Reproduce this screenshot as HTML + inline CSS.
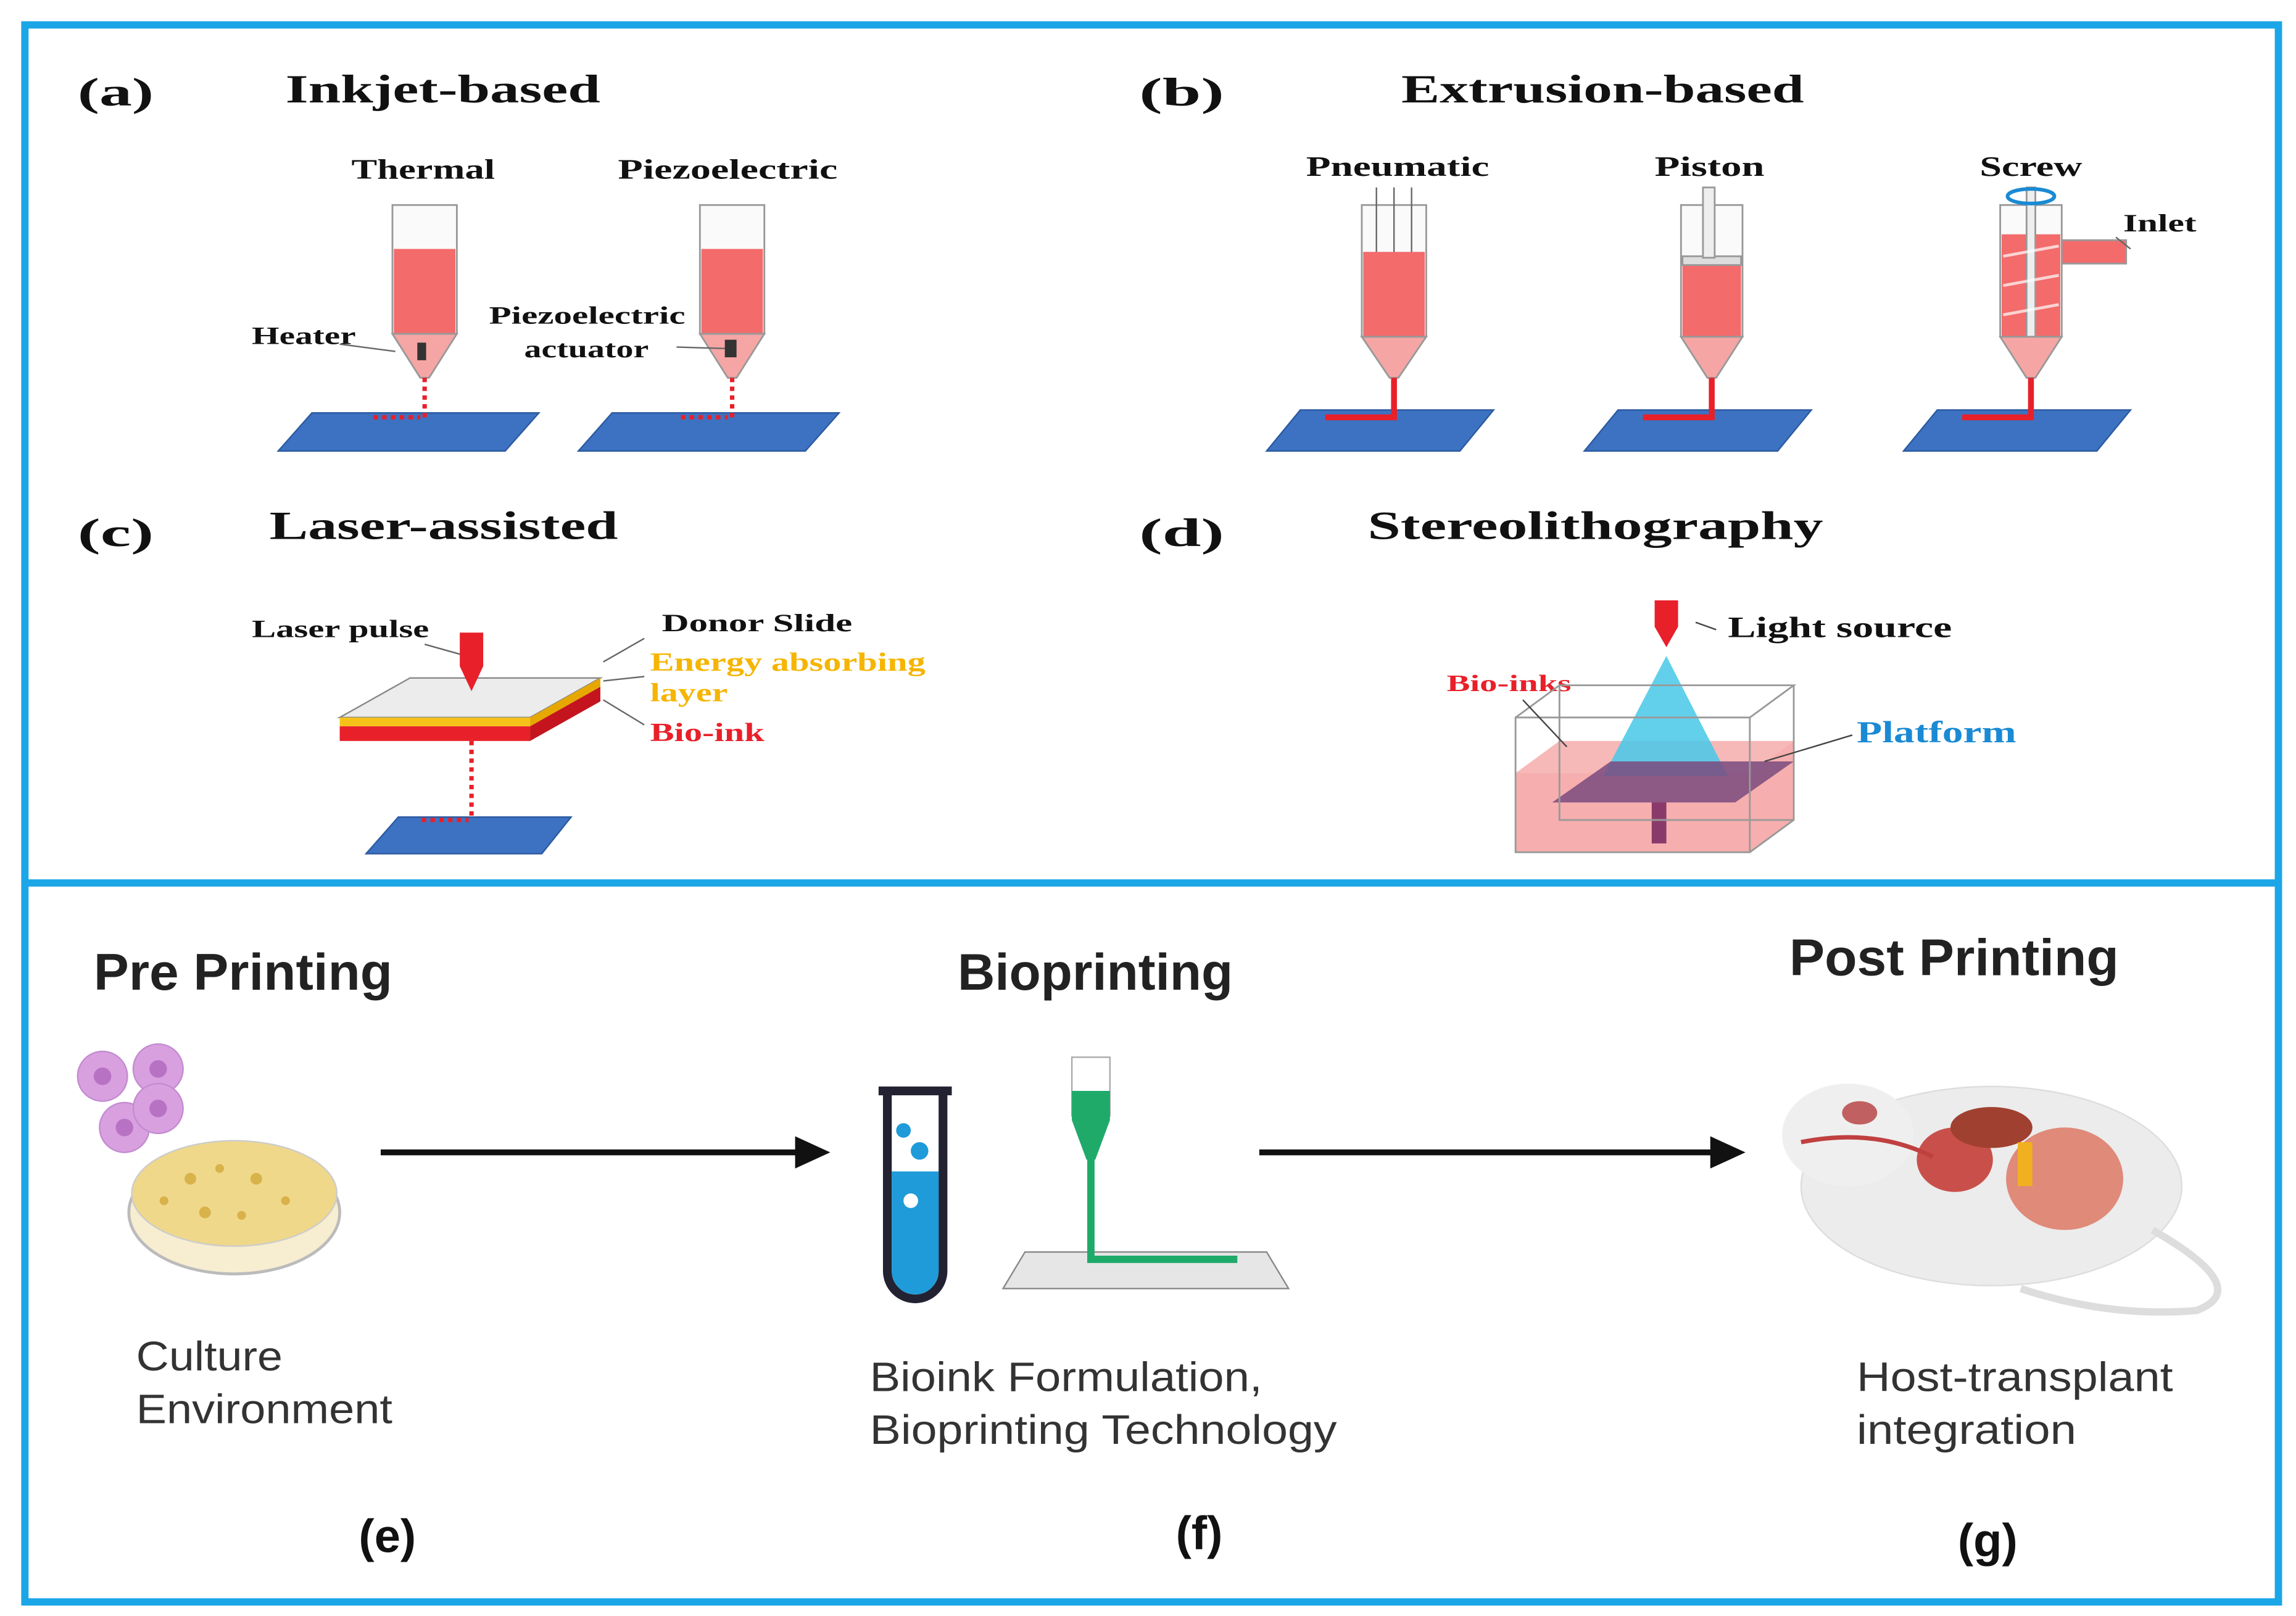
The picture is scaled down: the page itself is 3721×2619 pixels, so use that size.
<!DOCTYPE html>
<html><head><meta charset="utf-8"><style>
html,body{margin:0;padding:0;background:#fff}
svg{display:block}
.s{font-family:"Liberation Serif",serif;font-weight:bold}
.a{font-family:"Liberation Sans",sans-serif}
</style></head><body>
<svg width="3721" height="2619" viewBox="0 0 1568 1103.6" xmlns="http://www.w3.org/2000/svg">
<rect width="1568" height="1104" fill="#fff"/>
<rect x="17" y="17" width="1539" height="1077" fill="none" stroke="#1ba6e8" stroke-width="5"/>
<line x1="17" y1="603" x2="1556" y2="603" stroke="#1ba6e8" stroke-width="5"/>

<g class="s" font-size="27" fill="#111">
<text x="53" y="72" textLength="52" lengthAdjust="spacingAndGlyphs">(a)</text><text x="195" y="70" textLength="215" lengthAdjust="spacingAndGlyphs">Inkjet-based</text>
<text x="778" y="72" textLength="58" lengthAdjust="spacingAndGlyphs">(b)</text><text x="957" y="70" textLength="275" lengthAdjust="spacingAndGlyphs">Extrusion-based</text>
<text x="53" y="373" textLength="52" lengthAdjust="spacingAndGlyphs">(c)</text><text x="184" y="368" textLength="238" lengthAdjust="spacingAndGlyphs">Laser-assisted</text>
<text x="778" y="373" textLength="58" lengthAdjust="spacingAndGlyphs">(d)</text><text x="934" y="368" textLength="311" lengthAdjust="spacingAndGlyphs">Stereolithography</text>
</g>
<g class="s" font-size="19" fill="#111" lengthAdjust="spacingAndGlyphs">
<text x="240" y="122" textLength="98" lengthAdjust="spacingAndGlyphs">Thermal</text><text x="422" y="122" textLength="150" lengthAdjust="spacingAndGlyphs">Piezoelectric</text>
<text x="892" y="120" textLength="125" lengthAdjust="spacingAndGlyphs">Pneumatic</text><text x="1130" y="120" textLength="75" lengthAdjust="spacingAndGlyphs">Piston</text><text x="1352" y="120" textLength="70" lengthAdjust="spacingAndGlyphs">Screw</text>
</g>
<g class="s" font-size="17" fill="#111">
<text x="172" y="235" textLength="71" lengthAdjust="spacingAndGlyphs">Heater</text><text x="334" y="221" textLength="134" lengthAdjust="spacingAndGlyphs">Piezoelectric</text><text x="358" y="244" textLength="85" lengthAdjust="spacingAndGlyphs">actuator</text>
<text x="1450" y="158" textLength="50" lengthAdjust="spacingAndGlyphs">Inlet</text>
<text x="172" y="435" textLength="121" lengthAdjust="spacingAndGlyphs">Laser pulse</text><text x="452" y="431" textLength="130" lengthAdjust="spacingAndGlyphs">Donor Slide</text>
<text x="1180" y="435" font-size="20" textLength="153" lengthAdjust="spacingAndGlyphs">Light source</text>
</g>
<g class="s" font-size="18">
<text x="444" y="458" fill="#f5b500" textLength="188" lengthAdjust="spacingAndGlyphs">Energy absorbing</text><text x="444" y="479" fill="#f5b500" textLength="53" lengthAdjust="spacingAndGlyphs">layer</text>
<text x="444" y="506" fill="#e8202a" textLength="78" lengthAdjust="spacingAndGlyphs">Bio-ink</text>
<text x="988" y="472" fill="#e8202a" font-size="16" textLength="85" lengthAdjust="spacingAndGlyphs">Bio-inks</text>
<text x="1268" y="507" fill="#1a8ad4" font-size="21" textLength="109" lengthAdjust="spacingAndGlyphs">Platform</text>
</g>

<g fill="#3d72c2" stroke="#2b5aa0">
<polygon points="213,282 368,282 345,308 190,308"/>
<polygon points="418,282 573,282 550,308 395,308"/>
<polygon points="888,280 1020,280 997,308 865,308"/>
<polygon points="1105,280 1237,280 1214,308 1082,308"/>
<polygon points="1323,280 1455,280 1432,308 1300,308"/>
<polygon points="272,558 390,558 370,583 250,583"/>
</g>

<g stroke="#999" stroke-width="1.2">
<rect x="268" y="140" width="44" height="88" fill="#fafafa"/>
<rect x="269" y="170" width="42" height="58" fill="#f36b6b" stroke="none"/>
<polygon points="268,228 312,228 293,258 287,258" fill="#f6a5a5"/>
<rect x="285" y="234" width="6" height="12" fill="#333" stroke="none"/>
<rect x="478" y="140" width="44" height="88" fill="#fafafa"/>
<rect x="479" y="170" width="42" height="58" fill="#f36b6b" stroke="none"/>
<polygon points="478,228 522,228 503,258 497,258" fill="#f6a5a5"/>
<rect x="495" y="232" width="8" height="12" fill="#333" stroke="none"/>
<rect x="930" y="140" width="44" height="90" fill="#fafafa"/>
<rect x="931" y="172" width="42" height="58" fill="#f36b6b" stroke="none"/>
<polygon points="930,230 974,230 955,258 949,258" fill="#f6a5a5"/>
<rect x="1148" y="140" width="42" height="90" fill="#fafafa"/>
<rect x="1149" y="180" width="40" height="50" fill="#f36b6b" stroke="none"/>
<rect x="1149" y="175" width="40" height="6" fill="#ddd"/>
<rect x="1163" y="128" width="8" height="48" fill="#eee"/>
<polygon points="1148,230 1190,230 1172,258 1166,258" fill="#f6a5a5"/>
<rect x="1366" y="140" width="42" height="90" fill="#fafafa"/>
<rect x="1367" y="160" width="40" height="70" fill="#f36b6b" stroke="none"/>
<rect x="1408" y="164" width="44" height="16" fill="#f36b6b"/>
<rect x="1384" y="128" width="6" height="102" fill="#eee"/>
<polygon points="1366,230 1408,230 1390,258 1384,258" fill="#f6a5a5"/>
</g>
<g stroke="#fff" stroke-width="2" fill="none" opacity=".7">
<path d="M1368,175 L1406,168 M1368,195 L1406,188 M1368,215 L1406,208"/>
</g>
<ellipse cx="1387" cy="134" rx="16" ry="5" fill="none" stroke="#1a8ad4" stroke-width="2.5"/>
<g stroke="#666" stroke-width="1" fill="none">
<path d="M940,128 V172 M952,128 V172 M964,128 V172"/>
<path d="M232,235 L270,240 M462,237 L495,238 M1445,162 L1455,170 M290,440 L315,447"/>
</g>
<g stroke="#e8202a" stroke-width="4" fill="none">
<path d="M952,258 V285 H905"/><path d="M1169,258 V285 H1122"/><path d="M1387,258 V285 H1340"/>
</g>
<g stroke="#e8202a" stroke-width="3" stroke-dasharray="3,3" fill="none">
<path d="M290,258 V285 M255,285 H287"/><path d="M500,258 V285 M465,285 H497"/>
<path d="M322,500 V558 M288,560 H320"/>
</g>

<polygon points="232,490 280,463 410,463 362,490" fill="#ececec" stroke="#888"/>
<polygon points="232,490 362,490 362,496 232,496" fill="#f6c21a"/>
<polygon points="362,490 410,463 410,469 362,496" fill="#e6a800"/>
<polygon points="232,496 362,496 362,506 232,506" fill="#e8202a"/>
<polygon points="362,496 410,469 410,479 362,506" fill="#c4151e"/>
<polygon points="314,432 330,432 330,455 322,472 314,455" fill="#e8202a"/>
<g stroke="#666" stroke-width="1"><path d="M412,452 L440,436 M412,465 L440,462 M412,478 L440,495"/></g>

<polygon points="1035,528 1195,528 1225,506 1225,560 1195,582 1035,582" fill="#f6a0a0" opacity=".85"/>
<polygon points="1035,528 1065,506 1225,506 1195,528" fill="#f7b8b8"/>
<polygon points="1138,448 1095,530 1180,530" fill="#46c8e8" opacity=".85"/>
<polygon points="1060,548 1100,520 1225,520 1185,548" fill="#7a4a7e" opacity=".85"/>
<rect x="1128" y="548" width="10" height="28" fill="#8a3a6a"/>
<polygon points="1130,410 1146,410 1146,428 1138,442 1130,428" fill="#e8202a"/>
<g fill="none" stroke="#999" stroke-width="1.2">
<path d="M1035,490 H1195 V582 H1035 Z M1035,490 L1065,468 H1225 L1195,490 M1225,468 V560 L1195,582 M1065,468 V560 H1225"/>
</g>
<g stroke="#444" stroke-width="1"><path d="M1158,425 L1172,430 M1040,478 L1070,510 M1205,520 L1265,502"/></g>

<g class="a" font-weight="bold" font-size="35" fill="#222">
<text x="64" y="676" textLength="204" lengthAdjust="spacingAndGlyphs">Pre Printing</text><text x="654" y="676" textLength="188" lengthAdjust="spacingAndGlyphs">Bioprinting</text><text x="1222" y="666" textLength="225" lengthAdjust="spacingAndGlyphs">Post Printing</text>
</g>
<g class="a" font-size="28" fill="#333">
<text x="93" y="936" textLength="100" lengthAdjust="spacingAndGlyphs">Culture</text><text x="93" y="972" textLength="175" lengthAdjust="spacingAndGlyphs">Environment</text>
<text x="594" y="950" textLength="268" lengthAdjust="spacingAndGlyphs">Bioink Formulation,</text><text x="594" y="986" textLength="319" lengthAdjust="spacingAndGlyphs">Bioprinting Technology</text>
<text x="1268" y="950" textLength="216" lengthAdjust="spacingAndGlyphs">Host-transplant</text><text x="1268" y="986" textLength="150" lengthAdjust="spacingAndGlyphs">integration</text>
</g>
<g class="a" font-weight="bold" font-size="32" fill="#111">
<text x="245" y="1060">(e)</text><text x="803" y="1058">(f)</text><text x="1337" y="1063">(g)</text>
</g>
<g stroke="#111" stroke-width="4"><line x1="260" y1="787" x2="545" y2="787"/><line x1="860" y1="787" x2="1170" y2="787"/></g>
<polygon points="543,776 567,787 543,798" fill="#111"/><polygon points="1168,776 1192,787 1168,798" fill="#111"/>

<g fill="#d9a0e0" stroke="#c38bd0"><circle cx="70" cy="735" r="17"/><circle cx="108" cy="730" r="17"/><circle cx="85" cy="770" r="17"/><circle cx="108" cy="757" r="17"/></g>
<g fill="#b872c4"><circle cx="70" cy="735" r="6"/><circle cx="108" cy="730" r="6"/><circle cx="85" cy="770" r="6"/><circle cx="108" cy="757" r="6"/></g>
<ellipse cx="160" cy="828" rx="72" ry="42" fill="#f7edd0" stroke="#bbb" stroke-width="2"/>
<ellipse cx="160" cy="815" rx="70" ry="36" fill="#f0d88a" stroke="#ccc"/>
<g fill="#d8b24a"><circle cx="130" cy="805" r="4"/><circle cx="150" cy="798" r="3"/><circle cx="175" cy="805" r="4"/><circle cx="195" cy="820" r="3"/><circle cx="140" cy="828" r="4"/><circle cx="165" cy="830" r="3"/><circle cx="112" cy="820" r="3"/></g>

<path d="M600,745 H650 M606,745 V868 a19,19 0 0 0 38,0 V745" fill="#fff" stroke="#223" stroke-width="6"/>
<path d="M609,800 H641 V868 a16,16 0 0 1 -32,0 Z" fill="#1e9bd8"/>
<circle cx="617" cy="772" r="5" fill="#1e9bd8"/><circle cx="628" cy="786" r="6" fill="#1e9bd8"/><circle cx="622" cy="820" r="5" fill="#fff"/>
<polygon points="700,855 865,855 880,880 685,880" fill="#e6e6e6" stroke="#888"/>
<rect x="732" y="722" width="26" height="40" fill="#fff" stroke="#aaa"/>
<path d="M732,745 H758 V765 L748,792 H742 L732,765 Z" fill="#1faa6a"/>
<path d="M745,792 V860 H845" fill="none" stroke="#1faa6a" stroke-width="5"/>

<ellipse cx="1360" cy="810" rx="130" ry="68" fill="#ececec" stroke="#ddd"/>
<ellipse cx="1262" cy="775" rx="45" ry="35" fill="#efefef"/>
<path d="M1470,840 Q1540,880 1500,895 Q1440,900 1380,880" fill="none" stroke="#ddd" stroke-width="5"/>
<ellipse cx="1335" cy="792" rx="26" ry="22" fill="#c9504a"/>
<ellipse cx="1410" cy="805" rx="40" ry="35" fill="#e08a7a"/>
<ellipse cx="1360" cy="770" rx="28" ry="14" fill="#a04030"/>
<rect x="1378" y="780" width="10" height="30" fill="#f0b020"/>
<path d="M1230,780 Q1280,770 1320,790" stroke="#c04040" stroke-width="3" fill="none"/>
<ellipse cx="1270" cy="760" rx="12" ry="8" fill="#c06060"/>
</svg>
</body></html>
